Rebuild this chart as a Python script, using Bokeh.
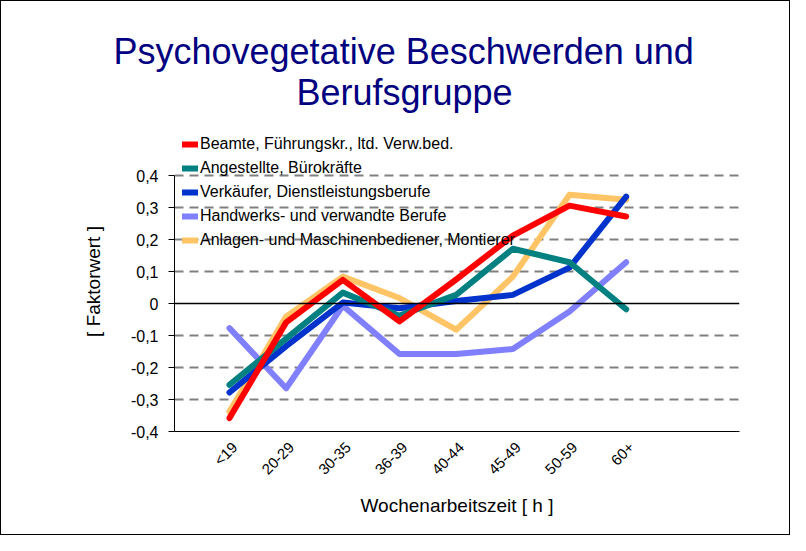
import math
from bokeh.plotting import figure
from bokeh.models import Range1d, FixedTicker, Span, Legend, LegendItem, Title
from bokeh.embed import file_html
from bokeh.resources import INLINE

title_lines = ["Psychovegetative Beschwerden und", "Berufsgruppe"]
categories = ["<19", "20-29", "30-35", "36-39", "40-44", "45-49", "50-59", "60+"]
series_names = [
    "Beamte, Führungskr., ltd. Verw.bed.",
    "Angestellte, Bürokräfte",
    "Verkäufer, Dienstleistungsberufe",
    "Handwerks- und verwandte Berufe",
    "Anlagen- und Maschinenbediener, Montierer",
]
beamte = [-0.358, -0.059, 0.074, -0.056, 0.075, 0.212, 0.306, 0.272]
angestellte = [-0.254, -0.110, 0.034, -0.038, 0.027, 0.171, 0.129, -0.018]
verkaeufer = [-0.278, -0.133, 0.003, -0.015, 0.008, 0.027, 0.112, 0.334]
handwerk = [-0.077, -0.265, -0.007, -0.158, -0.158, -0.142, -0.025, 0.129]
anlagen = [-0.338, -0.041, 0.084, 0.017, -0.082, 0.084, 0.340, 0.324]
y_ticks = [-0.4, -0.3, -0.2, -0.1, 0.0, 0.1, 0.2, 0.3, 0.4]
y_tick_labels = ["-0,4", "-0,3", "-0,2", "-0,1", "0", "0,1", "0,2", "0,3", "0,4"]

colors = ["#FF0000", "#008080", "#0033CC", "#8080FF", "#FFC466"]
values = [beamte, angestellte, verkaeufer, handwerk, anlagen]

FONT = "Liberation Sans"

p = figure(width=790, height=535, output_backend="svg", toolbar_location=None,
           title=None,
           x_range=Range1d(-0.97, 9.0), y_range=Range1d(-0.4, 0.5375),
           min_border_left=173, min_border_right=52, min_border_top=130,
           min_border_bottom=105)
p.styles = {"border": "1px solid #000000"}
p.outline_line_color = None
p.background_fill_color = "white"

# title: two centred lines (added closest-to-frame first)
t2 = Title(text=title_lines[1], align="left", offset=122, standoff=37,
           text_font=FONT, text_font_size="36px", text_font_style="normal",
           text_color="#000080")
t1 = Title(text=title_lines[0], align="left", offset=-61, standoff=-40,
           text_font=FONT, text_font_size="36px", text_font_style="normal",
           text_color="#000080")
p.add_layout(t2, "above")
p.add_layout(t1, "above")

xs = list(range(len(categories)))
label_shift = 0.09
label_pos = [i + label_shift for i in xs]

# x axis
p.xaxis.ticker = FixedTicker(ticks=label_pos)
p.xaxis.major_label_overrides = {x: c for x, c in zip(label_pos, categories)}
p.xaxis.major_label_orientation = math.pi / 4
p.xaxis.major_label_text_font = FONT
p.xaxis.major_label_text_font_size = "15px"
p.xaxis.major_label_text_color = "black"
p.xaxis.major_label_standoff = 13
p.xaxis.major_tick_out = 0
p.xaxis.major_tick_in = 0
p.xaxis.minor_tick_out = 0
p.xaxis.minor_tick_in = 0
p.xaxis.axis_line_color = "black"
p.xaxis.axis_label = "Wochenarbeitszeit [ h ]"
p.xaxis.axis_label_text_font = FONT
p.xaxis.axis_label_text_font_size = "19px"
p.xaxis.axis_label_text_font_style = "normal"
p.xaxis.axis_label_text_color = "black"
p.xaxis.axis_label_standoff = 8

# y axis
p.yaxis.ticker = FixedTicker(ticks=y_ticks)
p.yaxis.bounds = (-0.4, 0.4)
p.yaxis.major_label_overrides = {t: l for t, l in zip(y_ticks, y_tick_labels)}
p.yaxis.major_label_text_font = FONT
p.yaxis.major_label_text_font_size = "16px"
p.yaxis.major_label_text_color = "black"
p.yaxis.major_label_standoff = 10
p.yaxis.major_tick_out = 6
p.yaxis.major_tick_in = 0
p.yaxis.minor_tick_out = 0
p.yaxis.minor_tick_in = 0
p.yaxis.axis_line_color = "black"
p.yaxis.major_tick_line_color = "black"
p.yaxis.axis_label = "[ Faktorwert ]"
p.yaxis.axis_label_text_font = FONT
p.yaxis.axis_label_text_font_size = "19px"
p.yaxis.axis_label_text_font_style = "normal"
p.yaxis.axis_label_text_color = "black"
p.yaxis.axis_label_standoff = 24

p.xgrid.grid_line_color = None
p.ygrid.ticker = FixedTicker(ticks=[t for t in y_ticks if t != 0.0])
p.ygrid.grid_line_color = "#808080"
p.ygrid.grid_line_width = 2
p.ygrid.grid_line_dash = "9 6"

renderers = {}
draw_order = [4, 3, 2, 1, 0]
for k in draw_order:
    r = p.line(xs, values[k], line_color=colors[k], line_width=6,
               line_cap="round", line_join="round")
    renderers[k] = r

p.add_layout(Span(location=0, dimension="width", line_color="black", line_width=1.5))

items = [LegendItem(label=series_names[k], renderers=[renderers[k]]) for k in range(5)]
legend = Legend(items=items, location=(8, 181), padding=0, margin=0,
                spacing=4, label_height=20, glyph_height=20, glyph_width=16,
                label_standoff=2, border_line_color=None,
                background_fill_alpha=0, label_text_font=FONT,
                label_text_font_size="16px", label_text_color="black")
p.add_layout(legend, "center")

open("out.html", "w").write(file_html(p, INLINE))
